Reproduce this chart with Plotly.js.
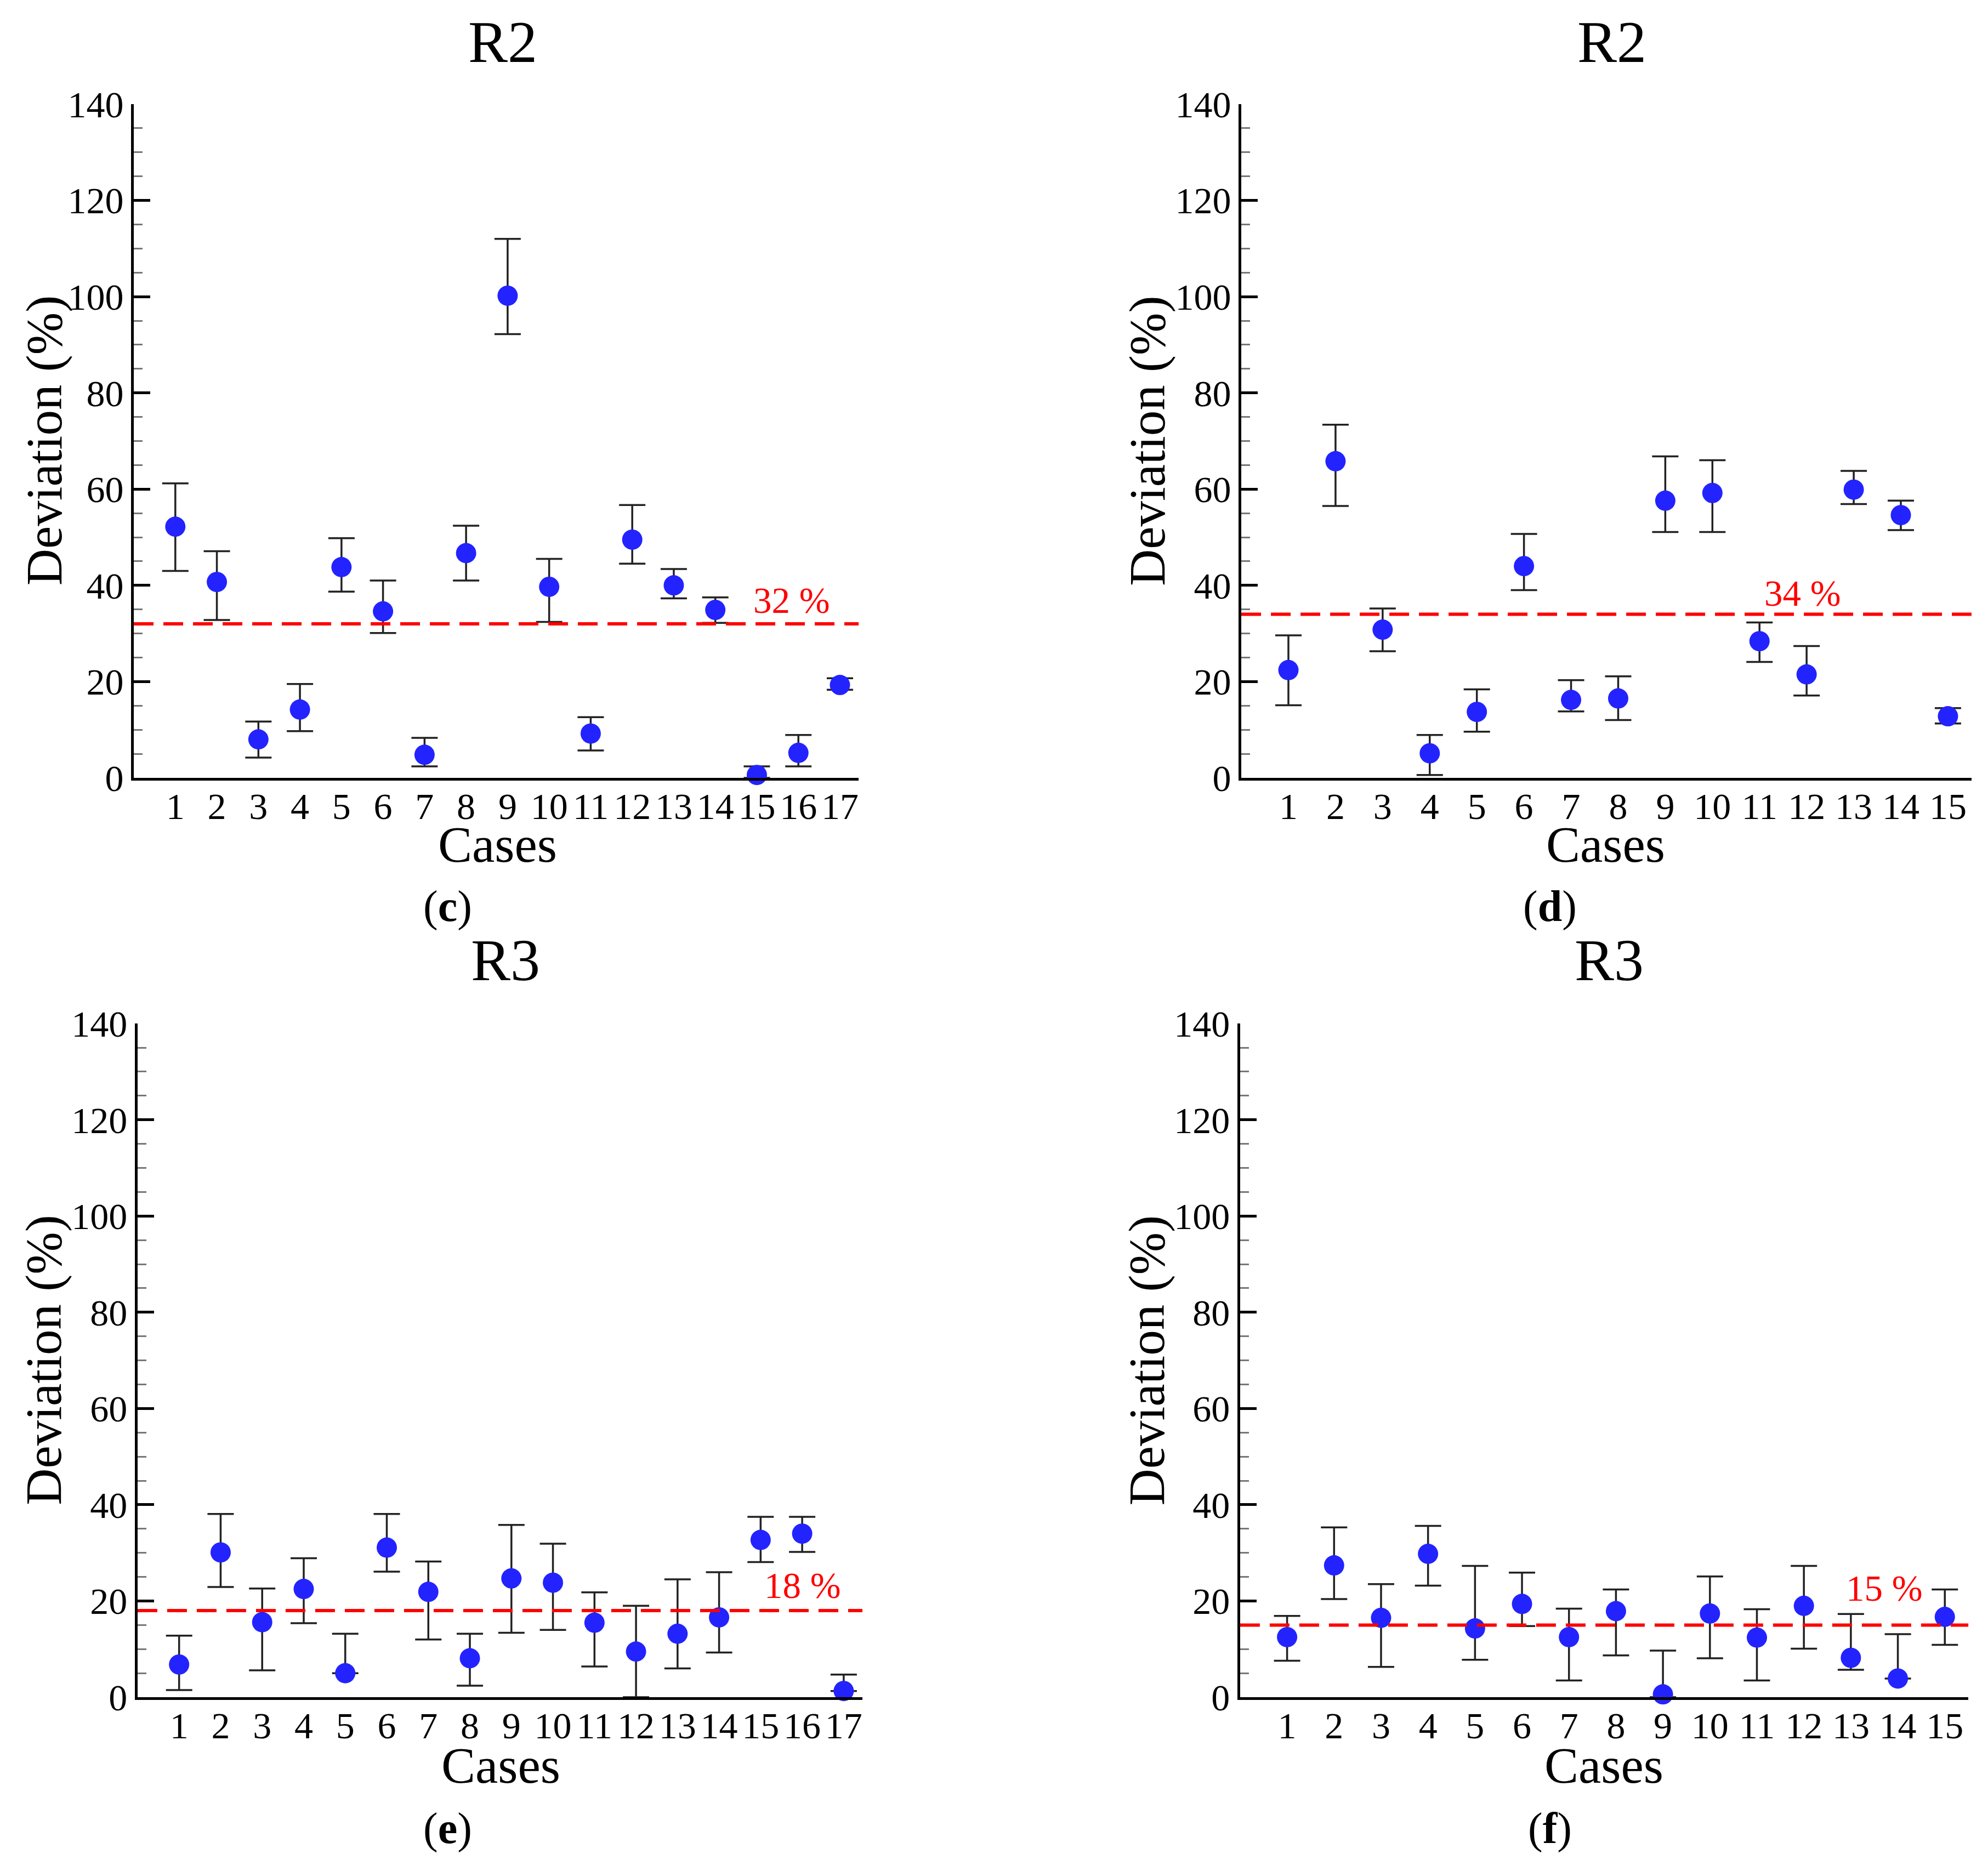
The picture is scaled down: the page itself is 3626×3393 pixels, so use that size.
<!DOCTYPE html>
<html>
<head>
<meta charset="utf-8">
<script src="https://cdn.plot.ly/plotly-3.0.1.min.js"></script>
<style>
body { margin: 0; background: #fff; }
#chart { width: 3626px; height: 3393px; }
</style>
</head>
<body>
<div id="chart"></div>
<script>
const FONT = '"Liberation Serif", "Times New Roman", serif';

// case numbers
const cases17 = [1, 2, 3, 4, 5, 6, 7, 8, 9, 10, 11, 12, 13, 14, 15, 16, 17];
const cases15 = [1, 2, 3, 4, 5, 6, 7, 8, 9, 10, 11, 12, 13, 14, 15];

// (c) R2
const r2cMean = [52.2, 40.7, 8.0, 14.2, 43.8, 34.6, 4.8, 46.7, 100.2, 39.7, 9.2, 49.5, 40.0, 34.9, 0.6, 5.2, 19.3];
const r2cHigh = [61.2, 47.1, 11.7, 19.5, 49.8, 41.0, 8.3, 52.4, 112.0, 45.5, 12.6, 56.7, 43.4, 37.5, 2.4, 8.9, 20.7];
const r2cLow  = [43.0, 32.8, 4.2, 9.7, 38.7, 30.1, 2.4, 41.0, 92.2, 32.4, 5.7, 44.5, 37.3, 32.2, 0.0, 2.4, 18.3];
const r2cAvg = 32;

// (d) R2
const r2dMean = [22.4, 65.8, 30.8, 5.1, 13.7, 44.0, 16.2, 16.5, 57.6, 59.2, 28.4, 21.5, 59.9, 54.6, 12.8];
const r2dHigh = [29.6, 73.4, 35.2, 8.9, 18.4, 50.7, 20.3, 21.1, 66.8, 66.0, 32.3, 27.4, 63.8, 57.6, 14.5];
const r2dLow  = [15.1, 56.5, 26.3, 0.6, 9.6, 39.0, 13.8, 12.0, 51.1, 51.1, 24.1, 17.1, 56.9, 51.5, 11.3];
const r2dAvg = 34;

// (e) R3
const r3eMean = [6.8, 30.1, 15.6, 22.5, 5.0, 31.1, 21.9, 8.1, 24.7, 23.8, 15.5, 9.5, 13.2, 16.6, 32.7, 34.0, 1.3];
const r3eHigh = [12.8, 38.1, 22.6, 28.9, 13.2, 38.1, 28.2, 13.2, 35.8, 31.9, 21.8, 19.0, 24.5, 26.0, 37.5, 37.5, 4.7];
const r3eLow  = [1.5, 22.9, 5.6, 15.4, 5.0, 26.1, 12.0, 2.4, 13.4, 14.0, 6.4, 0.0, 6.0, 9.3, 28.1, 30.2, 1.3];
const r3eAvg = 18;

// (f) R3
const r3fMean = [12.5, 27.4, 16.5, 29.8, 14.3, 19.4, 12.5, 17.9, 0.6, 17.4, 12.4, 19.0, 8.2, 3.9, 16.7];
const r3fHigh = [16.9, 35.3, 23.5, 35.6, 27.3, 25.9, 18.4, 22.4, 9.7, 25.1, 18.3, 27.3, 17.3, 13.1, 22.4];
const r3fLow  = [7.6, 20.4, 6.3, 23.2, 7.8, 14.8, 3.5, 8.7, 0.0, 8.1, 3.5, 10.1, 5.7, 3.9, 10.9];
const r3fAvg = 15;

const panels = [
    {cases: cases17, mean: r2cMean, high: r2cHigh, low: r2cLow, avg: r2cAvg, title: 'R2', tag: 'c'},
    {cases: cases15, mean: r2dMean, high: r2dHigh, low: r2dLow, avg: r2dAvg, title: 'R2', tag: 'd'},
    {cases: cases17, mean: r3eMean, high: r3eHigh, low: r3eLow, avg: r3eAvg, title: 'R3', tag: 'e'},
    {cases: cases15, mean: r3fMean, high: r3fHigh, low: r3fLow, avg: r3fAvg, title: 'R3', tag: 'f'},
];

// where each panel sits on the page (paper fractions), plus label spots
const frames = [
    {x: [0.0673, 0.4319], y: [0.5818, 0.944], xr: [0, 17.45], title: [0.2529, 0.9776], tag: [0.2251, 0.5128],
     xt: [0.2503, 0.5461], yt: [0.0221, 0.763], lbl: [15.84, 43]},
    {x: [0.6244, 0.9917], y: [0.5818, 0.944], xr: [0, 15.5], title: [0.8109, 0.9776], tag: [0.7796, 0.5128],
     xt: [0.8077, 0.5461], yt: [0.5769, 0.763], lbl: [11.92, 38]},
    {x: [0.0692, 0.4338], y: [0.0875, 0.4497], xr: [0, 17.45], title: [0.2544, 0.4839], tag: [0.2251, 0.017],
     xt: [0.2519, 0.0507], yt: [0.0221, 0.2686], lbl: [16.01, 46]},
    {x: [0.6238, 0.9901], y: [0.0875, 0.4497], xr: [0, 15.5], title: [0.8093, 0.4839], tag: [0.7796, 0.017],
     xt: [0.8067, 0.0507], yt: [0.5769, 0.2686], lbl: [13.71, 67]},
];

function text_at(text, pos, size, extra={}) {
    return Object.assign({
        text: text,
        xref: 'paper',
        yref: 'paper',
        x: pos[0],
        y: pos[1],
        xanchor: 'center',
        yanchor: 'middle',
        showarrow: false,
        font: {family: FONT, size: size, color: 'black'},
    }, extra);
}

let traces = [];
let layout = {
    width: 3626,
    height: 3393,
    margin: {l: 0, r: 0, t: 0, b: 0},
    paper_bgcolor: 'white',
    plot_bgcolor: 'white',
    font: {family: FONT, color: 'black'},
    showlegend: false,
    shapes: [],
    annotations: [],
};

for (let i = 0; i < panels.length; i++) {
    let p = panels[i];
    let f = frames[i];
    let n = i == 0 ? '' : `${i + 1}`;

    traces.push({
        x: p.cases,
        y: p.mean,
        type: 'scatter',
        mode: 'markers',
        xaxis: `x${n}`,
        yaxis: `y${n}`,
        cliponaxis: false,
        marker: {size: 37, color: 'rgb(35,35,255)'},
        error_y: {
            type: 'data',
            symmetric: false,
            array: p.high.map((h, j) => h - p.mean[j]),
            arrayminus: p.low.map((l, j) => p.mean[j] - l),
            color: '#222',
            thickness: 3.5,
            width: 24,
        },
    });

    layout[`xaxis${n}`] = {
        domain: f.x,
        range: f.xr,
        anchor: `y${n}`,
        tickmode: 'array',
        tickvals: p.cases,
        ticks: '',
        ticklabelstandoff: -12,
        tickfont: {family: FONT, size: 68},
        showline: true,
        linewidth: 5,
        linecolor: 'black',
        showgrid: false,
        zeroline: false,
        automargin: false,
    };
    layout[`yaxis${n}`] = {
        domain: f.y,
        range: [0, 140],
        anchor: `x${n}`,
        tick0: 0,
        dtick: 20,
        ticks: 'inside',
        ticklen: 30,
        tickwidth: 5,
        tickcolor: 'black',
        minor: {ticks: 'inside', dtick: 5, ticklen: 16, tickwidth: 3, tickcolor: '#777'},
        ticklabelstandoff: 0,
        tickfont: {family: FONT, size: 68},
        showline: true,
        linewidth: 5,
        linecolor: 'black',
        showgrid: false,
        zeroline: false,
        automargin: false,
    };

    // mean deviation line
    layout.shapes.push({
        type: 'line',
        xref: `x${n} domain`,
        x0: 0,
        x1: 1,
        yref: `y${n}`,
        y0: p.avg,
        y1: p.avg,
        layer: 'above',
        line: {color: 'red', width: 6, dash: '36px,18px'},
    });
    layout.annotations.push({
        text: `${p.avg} %`,
        xref: `x${n}`,
        yref: `y${n}`,
        x: f.lbl[0],
        y: p.avg,
        yshift: f.lbl[1],
        xanchor: 'center',
        yanchor: 'middle',
        showarrow: false,
        font: {family: FONT, size: 67, color: 'red'},
    });

    // axis titles, panel title and sub-figure tag
    layout.annotations.push(text_at('Cases', f.xt, 93));
    layout.annotations.push(text_at('Deviation (%)', f.yt, 93, {textangle: -90}));
    layout.annotations.push(text_at(p.title, f.title, 108));
    layout.annotations.push(text_at(`(<b>${p.tag}</b>)`, f.tag, 80));
}

Plotly.newPlot('chart', traces, layout, {staticPlot: true});
</script>
</body>
</html>
